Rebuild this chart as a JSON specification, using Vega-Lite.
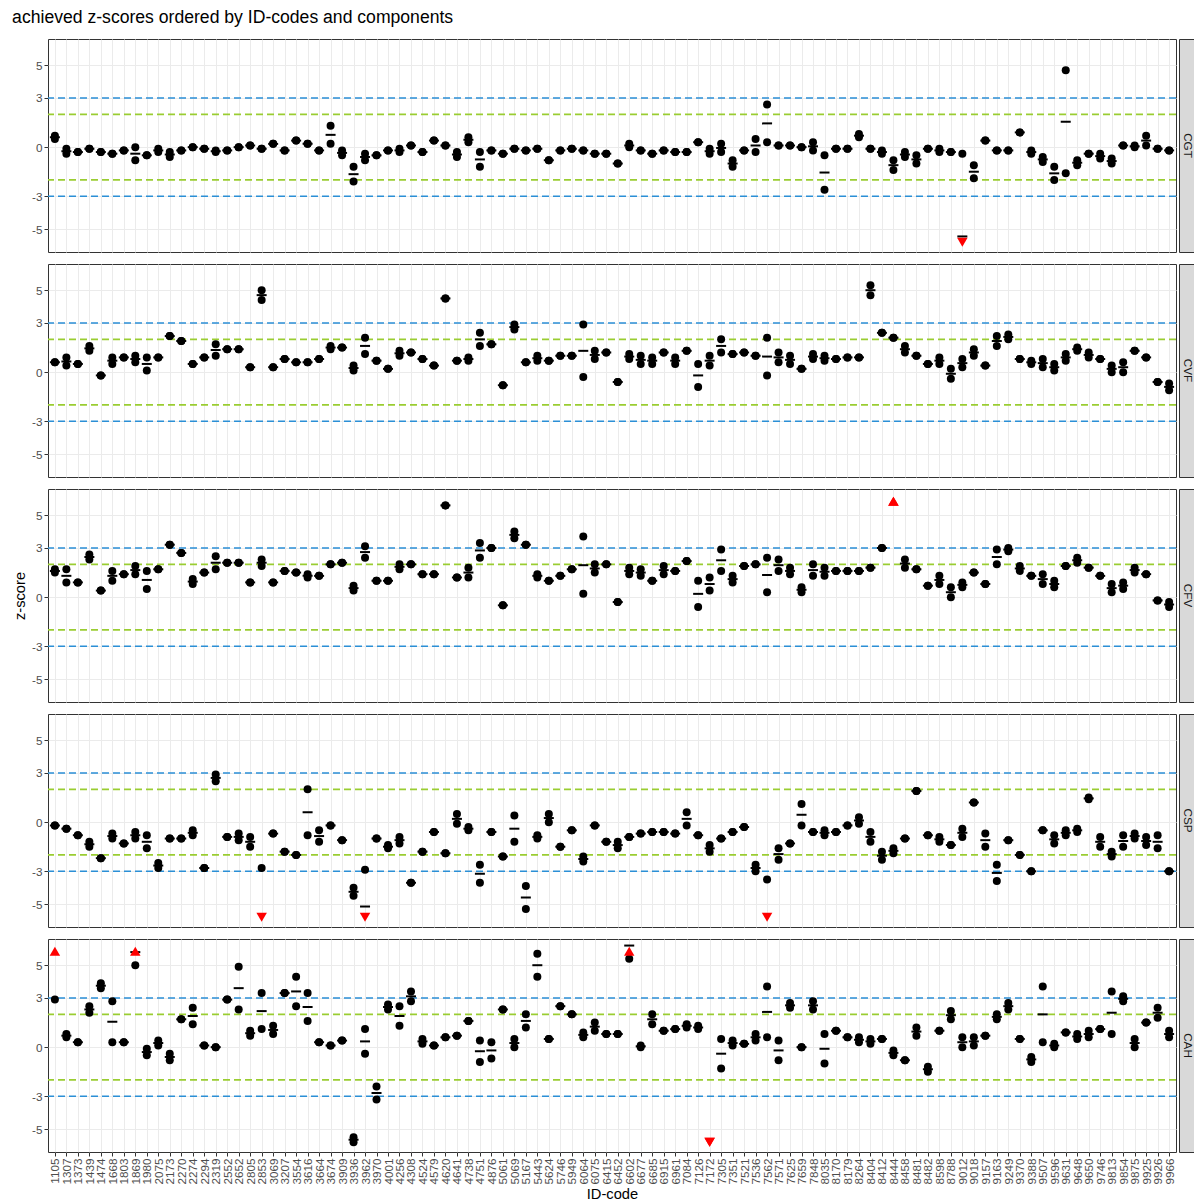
{
"$schema":"https://vega.github.io/schema/vega-lite/v6.json",
"padding":{"left":12,"top":8,"right":0,"bottom":2},
"config":{"font":"Liberation Sans","view":{"stroke":"#333333","strokeWidth":1}},
"title":{"text":"achieved z-scores ordered by ID-codes and components","anchor":"start","fontSize":17.6,"fontWeight":"normal","color":"#000000","offset":12,"frame":"bounds"},
"data":{"values":[
{"id":"1105","c":"CGT","a":0.7,"b":0.5},{"id":"1307","c":"CGT","a":-0.1,"b":-0.4},{"id":"1373","c":"CGT","a":-0.3,"b":-0.3},{"id":"1439","c":"CGT","a":-0.1,"b":-0.1},{"id":"1474","c":"CGT","a":-0.3,"b":-0.3},{"id":"1668","c":"CGT","a":-0.4,"b":-0.4},{"id":"1803","c":"CGT","a":-0.2,"b":-0.2},{"id":"1869","c":"CGT","a":0.0,"b":-0.8},{"id":"1980","c":"CGT","a":-0.5,"b":-0.5},{"id":"2075","c":"CGT","a":-0.1,"b":-0.3},
{"id":"2173","c":"CGT","a":-0.3,"b":-0.6},{"id":"2270","c":"CGT","a":-0.2,"b":-0.2},{"id":"2274","c":"CGT","a":0.0,"b":0.0},{"id":"2294","c":"CGT","a":-0.1,"b":-0.1},{"id":"2319","c":"CGT","a":-0.3,"b":-0.2},{"id":"2552","c":"CGT","a":-0.2,"b":-0.2},{"id":"2652","c":"CGT","a":0.0,"b":0.0},{"id":"2805","c":"CGT","a":0.1,"b":0.1},{"id":"2853","c":"CGT","a":-0.1,"b":-0.1},{"id":"3069","c":"CGT","a":0.2,"b":0.2},
{"id":"3207","c":"CGT","a":-0.2,"b":-0.2},{"id":"3554","c":"CGT","a":0.4,"b":0.4},{"id":"3616","c":"CGT","a":0.2,"b":0.2},{"id":"3664","c":"CGT","a":-0.2,"b":-0.2},{"id":"3674","c":"CGT","a":1.3,"b":0.2},{"id":"3909","c":"CGT","a":-0.2,"b":-0.5},{"id":"3936","c":"CGT","a":-1.2,"b":-2.1},{"id":"3962","c":"CGT","a":-0.4,"b":-0.8},{"id":"3970","c":"CGT","a":-0.5,"b":-0.5},{"id":"4001","c":"CGT","a":-0.2,"b":-0.2},
{"id":"4256","c":"CGT","a":-0.3,"b":-0.1},{"id":"4308","c":"CGT","a":0.1,"b":0.1},{"id":"4524","c":"CGT","a":-0.3,"b":-0.3},{"id":"4579","c":"CGT","a":0.4,"b":0.4},{"id":"4620","c":"CGT","a":0.1,"b":0.1},{"id":"4641","c":"CGT","a":-0.3,"b":-0.6},{"id":"4738","c":"CGT","a":0.6,"b":0.3},{"id":"4751","c":"CGT","a":-0.3,"b":-1.2},{"id":"4876","c":"CGT","a":-0.2,"b":-0.2},{"id":"5061","c":"CGT","a":-0.4,"b":-0.4},
{"id":"5069","c":"CGT","a":-0.1,"b":-0.1},{"id":"5167","c":"CGT","a":-0.2,"b":-0.2},{"id":"5443","c":"CGT","a":-0.1,"b":-0.1},{"id":"5624","c":"CGT","a":-0.8,"b":-0.8},{"id":"5746","c":"CGT","a":-0.2,"b":-0.2},{"id":"5949","c":"CGT","a":-0.1,"b":-0.1},{"id":"6064","c":"CGT","a":-0.2,"b":-0.2},{"id":"6075","c":"CGT","a":-0.4,"b":-0.4},{"id":"6415","c":"CGT","a":-0.4,"b":-0.4},{"id":"6452","c":"CGT","a":-1.0,"b":-1.0},
{"id":"6602","c":"CGT","a":0.2,"b":0.0},{"id":"6677","c":"CGT","a":-0.2,"b":-0.2},{"id":"6685","c":"CGT","a":-0.4,"b":-0.4},{"id":"6915","c":"CGT","a":-0.2,"b":-0.2},{"id":"6961","c":"CGT","a":-0.3,"b":-0.3},{"id":"7084","c":"CGT","a":-0.3,"b":-0.3},{"id":"7126","c":"CGT","a":0.3,"b":0.3},{"id":"7172","c":"CGT","a":-0.1,"b":-0.4},{"id":"7305","c":"CGT","a":0.2,"b":-0.3},{"id":"7351","c":"CGT","a":-0.8,"b":-1.2},
{"id":"7521","c":"CGT","a":-0.2,"b":-0.2},{"id":"7536","c":"CGT","a":0.5,"b":-0.3},{"id":"7562","c":"CGT","a":2.6,"b":0.3},{"id":"7571","c":"CGT","a":0.1,"b":0.1},{"id":"7625","c":"CGT","a":0.1,"b":0.1},{"id":"7659","c":"CGT","a":0.0,"b":0.0},{"id":"7848","c":"CGT","a":0.3,"b":-0.2},{"id":"8035","c":"CGT","a":-0.5,"b":-2.6},{"id":"8170","c":"CGT","a":-0.1,"b":-0.1},{"id":"8179","c":"CGT","a":-0.1,"b":-0.1},
{"id":"8264","c":"CGT","a":0.8,"b":0.6},{"id":"8404","c":"CGT","a":-0.1,"b":-0.1},{"id":"8412","c":"CGT","a":-0.2,"b":-0.4},{"id":"8444","c":"CGT","a":-0.8,"b":-1.4},{"id":"8458","c":"CGT","a":-0.3,"b":-0.6},{"id":"8481","c":"CGT","a":-0.5,"b":-1.0},{"id":"8482","c":"CGT","a":-0.1,"b":-0.1},{"id":"8598","c":"CGT","a":-0.1,"b":-0.3},{"id":"8788","c":"CGT","a":-0.3,"b":-0.3},{"id":"9012","c":"CGT","a":-0.4,"b":-10.5},
{"id":"9018","c":"CGT","a":-1.1,"b":-1.9},{"id":"9157","c":"CGT","a":0.4,"b":0.4},{"id":"9163","c":"CGT","a":-0.2,"b":-0.2},{"id":"9249","c":"CGT","a":-0.2,"b":-0.2},{"id":"9370","c":"CGT","a":0.9,"b":0.9},{"id":"9388","c":"CGT","a":-0.2,"b":-0.4},{"id":"9507","c":"CGT","a":-0.6,"b":-0.9},{"id":"9596","c":"CGT","a":-1.2,"b":-2.0},{"id":"9631","c":"CGT","a":4.7,"b":-1.6},{"id":"9648","c":"CGT","a":-0.8,"b":-1.1},
{"id":"9650","c":"CGT","a":-0.4,"b":-0.4},{"id":"9746","c":"CGT","a":-0.4,"b":-0.7},{"id":"9813","c":"CGT","a":-0.7,"b":-1.0},{"id":"9854","c":"CGT","a":0.1,"b":0.1},{"id":"9875","c":"CGT","a":0.0,"b":0.1},{"id":"9925","c":"CGT","a":0.7,"b":0.1},{"id":"9926","c":"CGT","a":-0.1,"b":-0.1},{"id":"9966","c":"CGT","a":-0.2,"b":-0.2},

{"id":"1105","c":"CVF","a":0.6,"b":0.6},{"id":"1307","c":"CVF","a":0.9,"b":0.4},{"id":"1373","c":"CVF","a":0.5,"b":0.5},{"id":"1439","c":"CVF","a":1.6,"b":1.3},{"id":"1474","c":"CVF","a":-0.2,"b":-0.2},{"id":"1668","c":"CVF","a":0.9,"b":0.5},{"id":"1803","c":"CVF","a":0.9,"b":0.9},{"id":"1869","c":"CVF","a":1.0,"b":0.6},{"id":"1980","c":"CVF","a":0.9,"b":0.1},{"id":"2075","c":"CVF","a":0.9,"b":0.9},
{"id":"2173","c":"CVF","a":2.2,"b":2.2},{"id":"2270","c":"CVF","a":1.9,"b":1.9},{"id":"2274","c":"CVF","a":0.5,"b":0.5},{"id":"2294","c":"CVF","a":0.9,"b":0.9},{"id":"2319","c":"CVF","a":1.7,"b":1.0},{"id":"2552","c":"CVF","a":1.4,"b":1.4},{"id":"2652","c":"CVF","a":1.4,"b":1.4},{"id":"2805","c":"CVF","a":0.3,"b":0.3},{"id":"2853","c":"CVF","a":5.0,"b":4.4},{"id":"3069","c":"CVF","a":0.3,"b":0.3},
{"id":"3207","c":"CVF","a":0.8,"b":0.8},{"id":"3554","c":"CVF","a":0.6,"b":0.6},{"id":"3616","c":"CVF","a":0.6,"b":0.6},{"id":"3664","c":"CVF","a":0.8,"b":0.8},{"id":"3674","c":"CVF","a":1.6,"b":1.4},{"id":"3909","c":"CVF","a":1.5,"b":1.5},{"id":"3936","c":"CVF","a":0.4,"b":0.1},{"id":"3962","c":"CVF","a":2.1,"b":1.1},{"id":"3970","c":"CVF","a":0.7,"b":0.7},{"id":"4001","c":"CVF","a":0.2,"b":0.2},
{"id":"4256","c":"CVF","a":1.3,"b":1.0},{"id":"4308","c":"CVF","a":1.2,"b":1.2},{"id":"4524","c":"CVF","a":0.8,"b":0.8},{"id":"4579","c":"CVF","a":0.4,"b":0.4},{"id":"4620","c":"CVF","a":4.5,"b":4.5},{"id":"4641","c":"CVF","a":0.7,"b":0.7},{"id":"4738","c":"CVF","a":0.9,"b":0.7},{"id":"4751","c":"CVF","a":2.4,"b":1.6},{"id":"4876","c":"CVF","a":1.7,"b":1.7},{"id":"5061","c":"CVF","a":-0.8,"b":-0.8},
{"id":"5069","c":"CVF","a":2.9,"b":2.6},{"id":"5167","c":"CVF","a":0.6,"b":0.6},{"id":"5443","c":"CVF","a":1.0,"b":0.7},{"id":"5624","c":"CVF","a":0.7,"b":0.7},{"id":"5746","c":"CVF","a":1.0,"b":1.0},{"id":"5949","c":"CVF","a":1.0,"b":1.0},{"id":"6064","c":"CVF","a":2.9,"b":-0.3},{"id":"6075","c":"CVF","a":1.3,"b":0.8},{"id":"6415","c":"CVF","a":1.2,"b":1.2},{"id":"6452","c":"CVF","a":-0.6,"b":-0.6},
{"id":"6602","c":"CVF","a":1.1,"b":0.8},{"id":"6677","c":"CVF","a":1.0,"b":0.5},{"id":"6685","c":"CVF","a":0.9,"b":0.5},{"id":"6915","c":"CVF","a":1.2,"b":1.2},{"id":"6961","c":"CVF","a":0.9,"b":0.5},{"id":"7084","c":"CVF","a":1.3,"b":1.3},{"id":"7126","c":"CVF","a":0.5,"b":-0.9},{"id":"7172","c":"CVF","a":1.0,"b":0.4},{"id":"7305","c":"CVF","a":2.0,"b":1.2},{"id":"7351","c":"CVF","a":1.1,"b":1.1},
{"id":"7521","c":"CVF","a":1.2,"b":1.2},{"id":"7536","c":"CVF","a":1.0,"b":1.0},{"id":"7562","c":"CVF","a":2.1,"b":-0.2},{"id":"7571","c":"CVF","a":1.2,"b":0.6},{"id":"7625","c":"CVF","a":1.0,"b":0.5},{"id":"7659","c":"CVF","a":0.2,"b":0.2},{"id":"7848","c":"CVF","a":1.1,"b":0.8},{"id":"8035","c":"CVF","a":1.0,"b":0.7},{"id":"8170","c":"CVF","a":0.8,"b":0.8},{"id":"8179","c":"CVF","a":0.9,"b":0.9},
{"id":"8264","c":"CVF","a":0.9,"b":0.9},{"id":"8404","c":"CVF","a":5.3,"b":4.7},{"id":"8412","c":"CVF","a":2.4,"b":2.4},{"id":"8444","c":"CVF","a":2.1,"b":2.1},{"id":"8458","c":"CVF","a":1.6,"b":1.2},{"id":"8481","c":"CVF","a":1.0,"b":1.0},{"id":"8482","c":"CVF","a":0.5,"b":0.5},{"id":"8598","c":"CVF","a":0.9,"b":0.5},{"id":"8788","c":"CVF","a":0.2,"b":-0.4},{"id":"9012","c":"CVF","a":0.8,"b":0.3},
{"id":"9018","c":"CVF","a":1.4,"b":1.0},{"id":"9157","c":"CVF","a":0.4,"b":0.4},{"id":"9163","c":"CVF","a":2.2,"b":1.6},{"id":"9249","c":"CVF","a":2.3,"b":2.0},{"id":"9370","c":"CVF","a":0.8,"b":0.8},{"id":"9388","c":"CVF","a":0.7,"b":0.5},{"id":"9507","c":"CVF","a":0.8,"b":0.3},{"id":"9596","c":"CVF","a":0.5,"b":0.1},{"id":"9631","c":"CVF","a":1.1,"b":0.7},{"id":"9648","c":"CVF","a":1.5,"b":1.3},
{"id":"9650","c":"CVF","a":1.2,"b":0.9},{"id":"9746","c":"CVF","a":0.8,"b":0.8},{"id":"9813","c":"CVF","a":0.4,"b":0.0},{"id":"9854","c":"CVF","a":0.6,"b":0.0},{"id":"9875","c":"CVF","a":1.3,"b":1.3},{"id":"9925","c":"CVF","a":0.9,"b":0.9},{"id":"9926","c":"CVF","a":-0.6,"b":-0.6},{"id":"9966","c":"CVF","a":-0.7,"b":-1.1},

{"id":"1105","c":"CFV","a":1.7,"b":1.5},{"id":"1307","c":"CFV","a":1.7,"b":0.9},{"id":"1373","c":"CFV","a":0.9,"b":0.9},{"id":"1439","c":"CFV","a":2.6,"b":2.3},{"id":"1474","c":"CFV","a":0.4,"b":0.4},{"id":"1668","c":"CFV","a":1.6,"b":1.0},{"id":"1803","c":"CFV","a":1.4,"b":1.4},{"id":"1869","c":"CFV","a":1.9,"b":1.4},{"id":"1980","c":"CFV","a":1.6,"b":0.5},{"id":"2075","c":"CFV","a":1.7,"b":1.7},
{"id":"2173","c":"CFV","a":3.2,"b":3.2},{"id":"2270","c":"CFV","a":2.7,"b":2.7},{"id":"2274","c":"CFV","a":1.1,"b":0.8},{"id":"2294","c":"CFV","a":1.5,"b":1.5},{"id":"2319","c":"CFV","a":2.5,"b":1.7},{"id":"2552","c":"CFV","a":2.1,"b":2.1},{"id":"2652","c":"CFV","a":2.1,"b":2.1},{"id":"2805","c":"CFV","a":0.9,"b":0.9},{"id":"2853","c":"CFV","a":2.3,"b":1.9},{"id":"3069","c":"CFV","a":0.9,"b":0.9},
{"id":"3207","c":"CFV","a":1.6,"b":1.6},{"id":"3554","c":"CFV","a":1.5,"b":1.5},{"id":"3616","c":"CFV","a":1.4,"b":1.2},{"id":"3664","c":"CFV","a":1.3,"b":1.3},{"id":"3674","c":"CFV","a":2.0,"b":2.0},{"id":"3909","c":"CFV","a":2.1,"b":2.1},{"id":"3936","c":"CFV","a":0.7,"b":0.4},{"id":"3962","c":"CFV","a":3.1,"b":2.4},{"id":"3970","c":"CFV","a":1.0,"b":1.0},{"id":"4001","c":"CFV","a":1.0,"b":1.0},
{"id":"4256","c":"CFV","a":2.0,"b":1.7},{"id":"4308","c":"CFV","a":2.0,"b":2.0},{"id":"4524","c":"CFV","a":1.4,"b":1.4},{"id":"4579","c":"CFV","a":1.4,"b":1.4},{"id":"4620","c":"CFV","a":5.6,"b":5.6},{"id":"4641","c":"CFV","a":1.2,"b":1.2},{"id":"4738","c":"CFV","a":1.8,"b":1.2},{"id":"4751","c":"CFV","a":3.3,"b":2.4},{"id":"4876","c":"CFV","a":3.0,"b":3.0},{"id":"5061","c":"CFV","a":-0.5,"b":-0.5},
{"id":"5069","c":"CFV","a":4.0,"b":3.6},{"id":"5167","c":"CFV","a":3.2,"b":3.2},{"id":"5443","c":"CFV","a":1.4,"b":1.2},{"id":"5624","c":"CFV","a":1.0,"b":1.0},{"id":"5746","c":"CFV","a":1.3,"b":1.3},{"id":"5949","c":"CFV","a":1.7,"b":1.7},{"id":"6064","c":"CFV","a":3.7,"b":0.2},{"id":"6075","c":"CFV","a":2.0,"b":1.5},{"id":"6415","c":"CFV","a":2.0,"b":2.0},{"id":"6452","c":"CFV","a":-0.3,"b":-0.3},
{"id":"6602","c":"CFV","a":1.8,"b":1.4},{"id":"6677","c":"CFV","a":1.7,"b":1.3},{"id":"6685","c":"CFV","a":1.0,"b":1.0},{"id":"6915","c":"CFV","a":1.9,"b":1.4},{"id":"6961","c":"CFV","a":1.6,"b":1.6},{"id":"7084","c":"CFV","a":2.2,"b":2.2},{"id":"7126","c":"CFV","a":1.0,"b":-0.6},{"id":"7172","c":"CFV","a":1.2,"b":0.4},{"id":"7305","c":"CFV","a":2.9,"b":1.6},{"id":"7351","c":"CFV","a":1.3,"b":0.9},
{"id":"7521","c":"CFV","a":1.9,"b":1.9},{"id":"7536","c":"CFV","a":2.0,"b":2.0},{"id":"7562","c":"CFV","a":2.4,"b":0.3},{"id":"7571","c":"CFV","a":2.3,"b":1.6},{"id":"7625","c":"CFV","a":1.8,"b":1.4},{"id":"7659","c":"CFV","a":0.6,"b":0.3},{"id":"7848","c":"CFV","a":2.0,"b":1.3},{"id":"8035","c":"CFV","a":1.8,"b":1.3},{"id":"8170","c":"CFV","a":1.6,"b":1.6},{"id":"8179","c":"CFV","a":1.6,"b":1.6},
{"id":"8264","c":"CFV","a":1.6,"b":1.6},{"id":"8404","c":"CFV","a":1.8,"b":1.8},{"id":"8412","c":"CFV","a":3.0,"b":3.0},{"id":"8444","c":"CFV","a":8.0,"b":8.0},{"id":"8458","c":"CFV","a":2.3,"b":1.8},{"id":"8481","c":"CFV","a":1.7,"b":1.7},{"id":"8482","c":"CFV","a":0.7,"b":0.7},{"id":"8598","c":"CFV","a":1.3,"b":0.8},{"id":"8788","c":"CFV","a":0.6,"b":0.0},{"id":"9012","c":"CFV","a":0.9,"b":0.6},
{"id":"9018","c":"CFV","a":1.5,"b":1.5},{"id":"9157","c":"CFV","a":0.8,"b":0.8},{"id":"9163","c":"CFV","a":2.9,"b":2.0},{"id":"9249","c":"CFV","a":3.0,"b":2.8},{"id":"9370","c":"CFV","a":1.9,"b":1.6},{"id":"9388","c":"CFV","a":1.3,"b":1.3},{"id":"9507","c":"CFV","a":1.4,"b":0.8},{"id":"9596","c":"CFV","a":1.0,"b":0.6},{"id":"9631","c":"CFV","a":1.9,"b":1.9},{"id":"9648","c":"CFV","a":2.4,"b":2.1},
{"id":"9650","c":"CFV","a":1.8,"b":1.8},{"id":"9746","c":"CFV","a":1.3,"b":1.3},{"id":"9813","c":"CFV","a":0.8,"b":0.3},{"id":"9854","c":"CFV","a":0.9,"b":0.5},{"id":"9875","c":"CFV","a":1.8,"b":1.5},{"id":"9925","c":"CFV","a":1.4,"b":1.4},{"id":"9926","c":"CFV","a":-0.2,"b":-0.2},{"id":"9966","c":"CFV","a":-0.3,"b":-0.6},

{"id":"1105","c":"CSP","a":-0.2,"b":-0.2},{"id":"1307","c":"CSP","a":-0.4,"b":-0.4},{"id":"1373","c":"CSP","a":-0.8,"b":-0.8},{"id":"1439","c":"CSP","a":-1.5,"b":-1.2},{"id":"1474","c":"CSP","a":-2.2,"b":-2.2},{"id":"1668","c":"CSP","a":-1.0,"b":-0.7},{"id":"1803","c":"CSP","a":-1.3,"b":-1.3},{"id":"1869","c":"CSP","a":-1.0,"b":-0.6},{"id":"1980","c":"CSP","a":-0.8,"b":-1.6},{"id":"2075","c":"CSP","a":-2.5,"b":-2.8},
{"id":"2173","c":"CSP","a":-1.0,"b":-1.0},{"id":"2270","c":"CSP","a":-1.0,"b":-1.0},{"id":"2274","c":"CSP","a":-0.8,"b":-0.5},{"id":"2294","c":"CSP","a":-2.8,"b":-2.8},{"id":"2319","c":"CSP","a":2.9,"b":2.5},{"id":"2552","c":"CSP","a":-0.9,"b":-0.9},{"id":"2652","c":"CSP","a":-1.1,"b":-0.7},{"id":"2805","c":"CSP","a":-1.5,"b":-0.9},{"id":"2853","c":"CSP","a":-2.8,"b":-10.0},{"id":"3069","c":"CSP","a":-0.7,"b":-0.7},
{"id":"3207","c":"CSP","a":-1.8,"b":-1.8},{"id":"3554","c":"CSP","a":-2.0,"b":-2.0},{"id":"3616","c":"CSP","a":2.0,"b":-0.8},{"id":"3664","c":"CSP","a":-0.5,"b":-1.2},{"id":"3674","c":"CSP","a":-0.2,"b":-0.2},{"id":"3909","c":"CSP","a":-1.1,"b":-1.1},{"id":"3936","c":"CSP","a":-4.0,"b":-4.5},{"id":"3962","c":"CSP","a":-2.9,"b":-7.4},{"id":"3970","c":"CSP","a":-1.0,"b":-1.0},{"id":"4001","c":"CSP","a":-1.6,"b":-1.4},
{"id":"4256","c":"CSP","a":-0.9,"b":-1.3},{"id":"4308","c":"CSP","a":-3.7,"b":-3.7},{"id":"4524","c":"CSP","a":-1.8,"b":-1.8},{"id":"4579","c":"CSP","a":-0.6,"b":-0.6},{"id":"4620","c":"CSP","a":-1.9,"b":-1.9},{"id":"4641","c":"CSP","a":0.5,"b":-0.1},{"id":"4738","c":"CSP","a":-0.3,"b":-0.5},{"id":"4751","c":"CSP","a":-2.6,"b":-3.7},{"id":"4876","c":"CSP","a":-0.6,"b":-0.6},{"id":"5061","c":"CSP","a":-2.1,"b":-2.1},
{"id":"5069","c":"CSP","a":0.4,"b":-1.2},{"id":"5167","c":"CSP","a":-3.9,"b":-5.3},{"id":"5443","c":"CSP","a":-1.0,"b":-0.8},{"id":"5624","c":"CSP","a":0.5,"b":0.0},{"id":"5746","c":"CSP","a":-1.5,"b":-1.5},{"id":"5949","c":"CSP","a":-0.5,"b":-0.5},{"id":"6064","c":"CSP","a":-2.1,"b":-2.4},{"id":"6075","c":"CSP","a":-0.2,"b":-0.2},{"id":"6415","c":"CSP","a":-1.2,"b":-1.2},{"id":"6452","c":"CSP","a":-1.6,"b":-1.2},
{"id":"6602","c":"CSP","a":-0.9,"b":-0.9},{"id":"6677","c":"CSP","a":-0.7,"b":-0.7},{"id":"6685","c":"CSP","a":-0.6,"b":-0.6},{"id":"6915","c":"CSP","a":-0.6,"b":-0.6},{"id":"6961","c":"CSP","a":-0.7,"b":-0.7},{"id":"7084","c":"CSP","a":0.6,"b":-0.2},{"id":"7126","c":"CSP","a":-0.8,"b":-0.8},{"id":"7172","c":"CSP","a":-1.8,"b":-1.4},{"id":"7305","c":"CSP","a":-1.0,"b":-1.0},{"id":"7351","c":"CSP","a":-0.6,"b":-0.6},
{"id":"7521","c":"CSP","a":-0.3,"b":-0.3},{"id":"7536","c":"CSP","a":-2.6,"b":-3.0},{"id":"7562","c":"CSP","a":-3.5,"b":-10.0},{"id":"7571","c":"CSP","a":-1.6,"b":-2.3},{"id":"7625","c":"CSP","a":-1.3,"b":-1.3},{"id":"7659","c":"CSP","a":1.1,"b":-0.2},{"id":"7848","c":"CSP","a":-0.6,"b":-0.6},{"id":"8035","c":"CSP","a":-0.8,"b":-0.5},{"id":"8170","c":"CSP","a":-0.6,"b":-0.6},{"id":"8179","c":"CSP","a":-0.2,"b":-0.2},
{"id":"8264","c":"CSP","a":0.3,"b":-0.1},{"id":"8404","c":"CSP","a":-0.6,"b":-1.2},{"id":"8412","c":"CSP","a":-2.3,"b":-1.8},{"id":"8444","c":"CSP","a":-1.6,"b":-1.9},{"id":"8458","c":"CSP","a":-1.0,"b":-1.0},{"id":"8481","c":"CSP","a":1.9,"b":1.9},{"id":"8482","c":"CSP","a":-0.8,"b":-0.8},{"id":"8598","c":"CSP","a":-1.2,"b":-0.9},{"id":"8788","c":"CSP","a":-1.4,"b":-1.4},{"id":"9012","c":"CSP","a":-0.4,"b":-0.9},
{"id":"9018","c":"CSP","a":1.2,"b":1.2},{"id":"9157","c":"CSP","a":-0.7,"b":-1.5},{"id":"9163","c":"CSP","a":-2.6,"b":-3.6},{"id":"9249","c":"CSP","a":-1.1,"b":-1.1},{"id":"9370","c":"CSP","a":-2.0,"b":-2.0},{"id":"9388","c":"CSP","a":-3.0,"b":-3.0},{"id":"9507","c":"CSP","a":-0.5,"b":-0.5},{"id":"9596","c":"CSP","a":-1.3,"b":-0.8},{"id":"9631","c":"CSP","a":-0.8,"b":-0.5},{"id":"9648","c":"CSP","a":-0.4,"b":-0.6},
{"id":"9650","c":"CSP","a":1.5,"b":1.4},{"id":"9746","c":"CSP","a":-0.9,"b":-1.5},{"id":"9813","c":"CSP","a":-1.8,"b":-2.1},{"id":"9854","c":"CSP","a":-0.8,"b":-1.5},{"id":"9875","c":"CSP","a":-1.0,"b":-0.7},{"id":"9925","c":"CSP","a":-0.9,"b":-1.4},{"id":"9926","c":"CSP","a":-0.8,"b":-1.6},{"id":"9966","c":"CSP","a":-3.0,"b":-3.0},

{"id":"1105","c":"CAH","a":2.9,"b":12.0},{"id":"1307","c":"CAH","a":0.8,"b":0.6},{"id":"1373","c":"CAH","a":0.3,"b":0.3},{"id":"1439","c":"CAH","a":2.5,"b":2.1},{"id":"1474","c":"CAH","a":3.9,"b":3.6},{"id":"1668","c":"CAH","a":2.8,"b":0.3},{"id":"1803","c":"CAH","a":0.3,"b":0.3},{"id":"1869","c":"CAH","a":5.0,"b":6.6},{"id":"1980","c":"CAH","a":-0.1,"b":-0.5},{"id":"2075","c":"CAH","a":0.4,"b":0.1},
{"id":"2173","c":"CAH","a":-0.4,"b":-0.8},{"id":"2270","c":"CAH","a":1.7,"b":1.7},{"id":"2274","c":"CAH","a":2.4,"b":1.4},{"id":"2294","c":"CAH","a":0.1,"b":0.1},{"id":"2319","c":"CAH","a":0.0,"b":0.0},{"id":"2552","c":"CAH","a":2.9,"b":2.9},{"id":"2652","c":"CAH","a":4.9,"b":2.3},{"id":"2805","c":"CAH","a":1.0,"b":0.7},{"id":"2853","c":"CAH","a":3.3,"b":1.1},{"id":"3069","c":"CAH","a":1.3,"b":0.8},
{"id":"3207","c":"CAH","a":3.3,"b":3.3},{"id":"3554","c":"CAH","a":4.3,"b":2.5},{"id":"3616","c":"CAH","a":3.3,"b":1.6},{"id":"3664","c":"CAH","a":0.3,"b":0.3},{"id":"3674","c":"CAH","a":0.1,"b":0.1},{"id":"3909","c":"CAH","a":0.4,"b":0.4},{"id":"3936","c":"CAH","a":-5.5,"b":-5.8},{"id":"3962","c":"CAH","a":1.1,"b":-0.4},{"id":"3970","c":"CAH","a":-2.4,"b":-3.2},{"id":"4001","c":"CAH","a":2.6,"b":2.3},
{"id":"4256","c":"CAH","a":2.5,"b":1.3},{"id":"4308","c":"CAH","a":3.4,"b":2.8},{"id":"4524","c":"CAH","a":0.5,"b":0.2},{"id":"4579","c":"CAH","a":0.1,"b":0.1},{"id":"4620","c":"CAH","a":0.6,"b":0.6},{"id":"4641","c":"CAH","a":0.7,"b":0.7},{"id":"4738","c":"CAH","a":1.6,"b":1.6},{"id":"4751","c":"CAH","a":0.4,"b":-0.9},{"id":"4876","c":"CAH","a":0.3,"b":-0.7},{"id":"5061","c":"CAH","a":2.3,"b":2.3},
{"id":"5069","c":"CAH","a":0.5,"b":0.0},{"id":"5167","c":"CAH","a":2.0,"b":1.2},{"id":"5443","c":"CAH","a":5.7,"b":4.3},{"id":"5624","c":"CAH","a":0.5,"b":0.5},{"id":"5746","c":"CAH","a":2.5,"b":2.5},{"id":"5949","c":"CAH","a":2.0,"b":2.0},{"id":"6064","c":"CAH","a":0.9,"b":0.6},{"id":"6075","c":"CAH","a":1.5,"b":1.0},{"id":"6415","c":"CAH","a":0.8,"b":0.8},{"id":"6452","c":"CAH","a":0.8,"b":0.8},
{"id":"6602","c":"CAH","a":5.4,"b":7.0},{"id":"6677","c":"CAH","a":0.1,"b":0.0},{"id":"6685","c":"CAH","a":2.0,"b":1.4},{"id":"6915","c":"CAH","a":1.0,"b":1.0},{"id":"6961","c":"CAH","a":1.1,"b":1.1},{"id":"7084","c":"CAH","a":1.4,"b":1.2},{"id":"7126","c":"CAH","a":1.3,"b":1.1},{"id":"7172","c":"CAH","a":-8.0,"b":-8.0},{"id":"7305","c":"CAH","a":0.5,"b":-1.3},{"id":"7351","c":"CAH","a":0.4,"b":0.1},
{"id":"7521","c":"CAH","a":0.2,"b":0.2},{"id":"7536","c":"CAH","a":0.8,"b":0.4},{"id":"7562","c":"CAH","a":3.7,"b":0.6},{"id":"7571","c":"CAH","a":0.4,"b":-0.8},{"id":"7625","c":"CAH","a":2.7,"b":2.4},{"id":"7659","c":"CAH","a":0.0,"b":0.0},{"id":"7848","c":"CAH","a":2.8,"b":2.3},{"id":"8035","c":"CAH","a":0.8,"b":-1.0},{"id":"8170","c":"CAH","a":1.0,"b":1.0},{"id":"8179","c":"CAH","a":0.6,"b":0.6},
{"id":"8264","c":"CAH","a":0.6,"b":0.3},{"id":"8404","c":"CAH","a":0.5,"b":0.2},{"id":"8412","c":"CAH","a":0.5,"b":0.5},{"id":"8444","c":"CAH","a":-0.2,"b":-0.5},{"id":"8458","c":"CAH","a":-0.8,"b":-0.8},{"id":"8481","c":"CAH","a":1.2,"b":0.7},{"id":"8482","c":"CAH","a":-1.2,"b":-1.5},{"id":"8598","c":"CAH","a":1.0,"b":1.0},{"id":"8788","c":"CAH","a":2.2,"b":1.7},{"id":"9012","c":"CAH","a":0.6,"b":0.0},
{"id":"9018","c":"CAH","a":0.6,"b":0.1},{"id":"9157","c":"CAH","a":0.7,"b":0.7},{"id":"9163","c":"CAH","a":2.0,"b":1.7},{"id":"9249","c":"CAH","a":2.7,"b":2.3},{"id":"9370","c":"CAH","a":0.5,"b":0.5},{"id":"9388","c":"CAH","a":-0.6,"b":-0.9},{"id":"9507","c":"CAH","a":3.7,"b":0.3},{"id":"9596","c":"CAH","a":0.2,"b":0.0},{"id":"9631","c":"CAH","a":0.9,"b":0.9},{"id":"9648","c":"CAH","a":0.8,"b":0.5},
{"id":"9650","c":"CAH","a":1.0,"b":0.6},{"id":"9746","c":"CAH","a":1.1,"b":1.1},{"id":"9813","c":"CAH","a":3.4,"b":0.8},{"id":"9854","c":"CAH","a":3.1,"b":2.8},{"id":"9875","c":"CAH","a":0.5,"b":0.0},{"id":"9925","c":"CAH","a":1.5,"b":1.5},{"id":"9926","c":"CAH","a":2.4,"b":1.8},{"id":"9966","c":"CAH","a":1.0,"b":0.6}
]},
"transform":[{"fold":["a","b"],"as":["rep","z"]}],
"spacing":10,
"vconcat":[
{"spacing":0,"hconcat":[
 {"width":1128,"height":213,
  "layer":[
   {"data":{"values":[{"v":3,"g":"b"},{"v":-3,"g":"b"},{"v":2,"g":"g"},{"v":-2,"g":"g"}]},
    "mark":{"type":"rule","strokeDash":[7,4],"strokeWidth":1.6},
    "encoding":{"y":{"field":"v","type":"quantitative","scale":{"domain":[-6.4,6.6],"nice":false,"zero":false},"axis":{"values":[-5,-3,0,3,5],"labelExpr":"'' + datum.value","title":"z-score","titleOpacity":0,"titleFontSize":14.7,"titleFontWeight":"normal","titleColor":"#000000","labelFontSize":11.7,"labelColor":"#4D4D4D","tickColor":"#333333","tickSize":4,"labelPadding":2,"grid":true,"gridColor":"#EBEBEB","domain":false}},
     "color":{"field":"g","type":"nominal","scale":{"domain":["b","g"],"range":["#2B8FD6","#9ACD32"]},"legend":null}}},
   {"transform":[{"filter":"datum.c == 'CGT'"},{"aggregate":[{"op":"mean","field":"z","as":"m"}],"groupby":["id"]},{"filter":"datum.m > -6.3 && datum.m < 6.5"}],
    "mark":{"type":"tick","color":"#000000","opacity":1,"size":10,"thickness":2},
    "encoding":{"x":{"field":"id","type":"ordinal","scale":{"type":"point","padding":0.6},"axis":{"labels":false,"ticks":false,"domain":false,"title":null,"grid":true,"gridColor":"#EBEBEB"}},
     "y":{"field":"m","type":"quantitative"}}},
   {"transform":[{"filter":"datum.c == 'CGT' && datum.z > -6.2 && datum.z < 6.2"}],
    "mark":{"type":"circle","color":"#000000","opacity":1,"size":64},
    "encoding":{"x":{"field":"id","type":"ordinal"},"y":{"field":"z","type":"quantitative"}}},
   {"transform":[{"filter":"datum.c == 'CGT' && datum.z >= 6.2"}],
    "mark":{"type":"point","shape":"triangle-up","filled":true,"color":"#FF0000","opacity":1,"size":110},
    "encoding":{"x":{"field":"id","type":"ordinal"},"y":{"datum":5.85,"type":"quantitative"}}},
   {"transform":[{"filter":"datum.c == 'CGT' && datum.z <= -6.2"}],
    "mark":{"type":"point","shape":"triangle-down","filled":true,"color":"#FF0000","opacity":1,"size":110},
    "encoding":{"x":{"field":"id","type":"ordinal"},"y":{"datum":-5.8,"type":"quantitative"}}}
  ]},
 {"width":18,"height":213,"view":{"fill":"#D9D9D9","stroke":"#333333"},
  "transform":[{"filter":"datum.c == 'CGT'"},{"aggregate":[{"op":"count","as":"n"}],"groupby":["c"]}],
  "mark":{"type":"text","angle":90,"fontSize":11.7,"color":"#1A1A1A"},
  "encoding":{"text":{"field":"c","type":"nominal"}}}
]},
{"spacing":0,"hconcat":[
 {"width":1128,"height":213,
  "layer":[
   {"data":{"values":[{"v":3,"g":"b"},{"v":-3,"g":"b"},{"v":2,"g":"g"},{"v":-2,"g":"g"}]},
    "mark":{"type":"rule","strokeDash":[7,4],"strokeWidth":1.6},
    "encoding":{"y":{"field":"v","type":"quantitative","scale":{"domain":[-6.4,6.6],"nice":false,"zero":false},"axis":{"values":[-5,-3,0,3,5],"labelExpr":"'' + datum.value","title":"z-score","titleOpacity":0,"titleFontSize":14.7,"titleFontWeight":"normal","titleColor":"#000000","labelFontSize":11.7,"labelColor":"#4D4D4D","tickColor":"#333333","tickSize":4,"labelPadding":2,"grid":true,"gridColor":"#EBEBEB","domain":false}},
     "color":{"field":"g","type":"nominal","scale":{"domain":["b","g"],"range":["#2B8FD6","#9ACD32"]},"legend":null}}},
   {"transform":[{"filter":"datum.c == 'CVF'"},{"aggregate":[{"op":"mean","field":"z","as":"m"}],"groupby":["id"]},{"filter":"datum.m > -6.3 && datum.m < 6.5"}],
    "mark":{"type":"tick","color":"#000000","opacity":1,"size":10,"thickness":2},
    "encoding":{"x":{"field":"id","type":"ordinal","scale":{"type":"point","padding":0.6},"axis":{"labels":false,"ticks":false,"domain":false,"title":null,"grid":true,"gridColor":"#EBEBEB"}},
     "y":{"field":"m","type":"quantitative"}}},
   {"transform":[{"filter":"datum.c == 'CVF' && datum.z > -6.2 && datum.z < 6.2"}],
    "mark":{"type":"circle","color":"#000000","opacity":1,"size":64},
    "encoding":{"x":{"field":"id","type":"ordinal"},"y":{"field":"z","type":"quantitative"}}},
   {"transform":[{"filter":"datum.c == 'CVF' && datum.z >= 6.2"}],
    "mark":{"type":"point","shape":"triangle-up","filled":true,"color":"#FF0000","opacity":1,"size":110},
    "encoding":{"x":{"field":"id","type":"ordinal"},"y":{"datum":5.85,"type":"quantitative"}}},
   {"transform":[{"filter":"datum.c == 'CVF' && datum.z <= -6.2"}],
    "mark":{"type":"point","shape":"triangle-down","filled":true,"color":"#FF0000","opacity":1,"size":110},
    "encoding":{"x":{"field":"id","type":"ordinal"},"y":{"datum":-5.8,"type":"quantitative"}}}
  ]},
 {"width":18,"height":213,"view":{"fill":"#D9D9D9","stroke":"#333333"},
  "transform":[{"filter":"datum.c == 'CVF'"},{"aggregate":[{"op":"count","as":"n"}],"groupby":["c"]}],
  "mark":{"type":"text","angle":90,"fontSize":11.7,"color":"#1A1A1A"},
  "encoding":{"text":{"field":"c","type":"nominal"}}}
]},
{"spacing":0,"hconcat":[
 {"width":1128,"height":213,
  "layer":[
   {"data":{"values":[{"v":3,"g":"b"},{"v":-3,"g":"b"},{"v":2,"g":"g"},{"v":-2,"g":"g"}]},
    "mark":{"type":"rule","strokeDash":[7,4],"strokeWidth":1.6},
    "encoding":{"y":{"field":"v","type":"quantitative","scale":{"domain":[-6.4,6.6],"nice":false,"zero":false},"axis":{"values":[-5,-3,0,3,5],"labelExpr":"'' + datum.value","title":"z-score","titleOpacity":1,"titleFontSize":14.7,"titleFontWeight":"normal","titleColor":"#000000","labelFontSize":11.7,"labelColor":"#4D4D4D","tickColor":"#333333","tickSize":4,"labelPadding":2,"grid":true,"gridColor":"#EBEBEB","domain":false}},
     "color":{"field":"g","type":"nominal","scale":{"domain":["b","g"],"range":["#2B8FD6","#9ACD32"]},"legend":null}}},
   {"transform":[{"filter":"datum.c == 'CFV'"},{"aggregate":[{"op":"mean","field":"z","as":"m"}],"groupby":["id"]},{"filter":"datum.m > -6.3 && datum.m < 6.5"}],
    "mark":{"type":"tick","color":"#000000","opacity":1,"size":10,"thickness":2},
    "encoding":{"x":{"field":"id","type":"ordinal","scale":{"type":"point","padding":0.6},"axis":{"labels":false,"ticks":false,"domain":false,"title":null,"grid":true,"gridColor":"#EBEBEB"}},
     "y":{"field":"m","type":"quantitative"}}},
   {"transform":[{"filter":"datum.c == 'CFV' && datum.z > -6.2 && datum.z < 6.2"}],
    "mark":{"type":"circle","color":"#000000","opacity":1,"size":64},
    "encoding":{"x":{"field":"id","type":"ordinal"},"y":{"field":"z","type":"quantitative"}}},
   {"transform":[{"filter":"datum.c == 'CFV' && datum.z >= 6.2"}],
    "mark":{"type":"point","shape":"triangle-up","filled":true,"color":"#FF0000","opacity":1,"size":110},
    "encoding":{"x":{"field":"id","type":"ordinal"},"y":{"datum":5.85,"type":"quantitative"}}},
   {"transform":[{"filter":"datum.c == 'CFV' && datum.z <= -6.2"}],
    "mark":{"type":"point","shape":"triangle-down","filled":true,"color":"#FF0000","opacity":1,"size":110},
    "encoding":{"x":{"field":"id","type":"ordinal"},"y":{"datum":-5.8,"type":"quantitative"}}}
  ]},
 {"width":18,"height":213,"view":{"fill":"#D9D9D9","stroke":"#333333"},
  "transform":[{"filter":"datum.c == 'CFV'"},{"aggregate":[{"op":"count","as":"n"}],"groupby":["c"]}],
  "mark":{"type":"text","angle":90,"fontSize":11.7,"color":"#1A1A1A"},
  "encoding":{"text":{"field":"c","type":"nominal"}}}
]},
{"spacing":0,"hconcat":[
 {"width":1128,"height":213,
  "layer":[
   {"data":{"values":[{"v":3,"g":"b"},{"v":-3,"g":"b"},{"v":2,"g":"g"},{"v":-2,"g":"g"}]},
    "mark":{"type":"rule","strokeDash":[7,4],"strokeWidth":1.6},
    "encoding":{"y":{"field":"v","type":"quantitative","scale":{"domain":[-6.4,6.6],"nice":false,"zero":false},"axis":{"values":[-5,-3,0,3,5],"labelExpr":"'' + datum.value","title":"z-score","titleOpacity":0,"titleFontSize":14.7,"titleFontWeight":"normal","titleColor":"#000000","labelFontSize":11.7,"labelColor":"#4D4D4D","tickColor":"#333333","tickSize":4,"labelPadding":2,"grid":true,"gridColor":"#EBEBEB","domain":false}},
     "color":{"field":"g","type":"nominal","scale":{"domain":["b","g"],"range":["#2B8FD6","#9ACD32"]},"legend":null}}},
   {"transform":[{"filter":"datum.c == 'CSP'"},{"aggregate":[{"op":"mean","field":"z","as":"m"}],"groupby":["id"]},{"filter":"datum.m > -6.3 && datum.m < 6.5"}],
    "mark":{"type":"tick","color":"#000000","opacity":1,"size":10,"thickness":2},
    "encoding":{"x":{"field":"id","type":"ordinal","scale":{"type":"point","padding":0.6},"axis":{"labels":false,"ticks":false,"domain":false,"title":null,"grid":true,"gridColor":"#EBEBEB"}},
     "y":{"field":"m","type":"quantitative"}}},
   {"transform":[{"filter":"datum.c == 'CSP' && datum.z > -6.2 && datum.z < 6.2"}],
    "mark":{"type":"circle","color":"#000000","opacity":1,"size":64},
    "encoding":{"x":{"field":"id","type":"ordinal"},"y":{"field":"z","type":"quantitative"}}},
   {"transform":[{"filter":"datum.c == 'CSP' && datum.z >= 6.2"}],
    "mark":{"type":"point","shape":"triangle-up","filled":true,"color":"#FF0000","opacity":1,"size":110},
    "encoding":{"x":{"field":"id","type":"ordinal"},"y":{"datum":5.85,"type":"quantitative"}}},
   {"transform":[{"filter":"datum.c == 'CSP' && datum.z <= -6.2"}],
    "mark":{"type":"point","shape":"triangle-down","filled":true,"color":"#FF0000","opacity":1,"size":110},
    "encoding":{"x":{"field":"id","type":"ordinal"},"y":{"datum":-5.8,"type":"quantitative"}}}
  ]},
 {"width":18,"height":213,"view":{"fill":"#D9D9D9","stroke":"#333333"},
  "transform":[{"filter":"datum.c == 'CSP'"},{"aggregate":[{"op":"count","as":"n"}],"groupby":["c"]}],
  "mark":{"type":"text","angle":90,"fontSize":11.7,"color":"#1A1A1A"},
  "encoding":{"text":{"field":"c","type":"nominal"}}}
]},
{"spacing":0,"hconcat":[
 {"width":1128,"height":213,
  "layer":[
   {"data":{"values":[{"v":3,"g":"b"},{"v":-3,"g":"b"},{"v":2,"g":"g"},{"v":-2,"g":"g"}]},
    "mark":{"type":"rule","strokeDash":[7,4],"strokeWidth":1.6},
    "encoding":{"y":{"field":"v","type":"quantitative","scale":{"domain":[-6.4,6.6],"nice":false,"zero":false},"axis":{"values":[-5,-3,0,3,5],"labelExpr":"'' + datum.value","title":"z-score","titleOpacity":0,"titleFontSize":14.7,"titleFontWeight":"normal","titleColor":"#000000","labelFontSize":11.7,"labelColor":"#4D4D4D","tickColor":"#333333","tickSize":4,"labelPadding":2,"grid":true,"gridColor":"#EBEBEB","domain":false}},
     "color":{"field":"g","type":"nominal","scale":{"domain":["b","g"],"range":["#2B8FD6","#9ACD32"]},"legend":null}}},
   {"transform":[{"filter":"datum.c == 'CAH'"},{"aggregate":[{"op":"mean","field":"z","as":"m"}],"groupby":["id"]},{"filter":"datum.m > -6.3 && datum.m < 6.5"}],
    "mark":{"type":"tick","color":"#000000","opacity":1,"size":10,"thickness":2},
    "encoding":{"x":{"field":"id","type":"ordinal","scale":{"type":"point","padding":0.6},"axis":{"labelAngle":-90,"labelFontSize":11.7,"labelColor":"#4D4D4D","labelOverlap":false,"labelPadding":2,"title":"ID-code","titleFontSize":14.7,"titleFontWeight":"normal","titleColor":"#000000","titlePadding":2,"tickColor":"#333333","tickSize":4,"grid":true,"gridColor":"#EBEBEB","domain":false}},
     "y":{"field":"m","type":"quantitative"}}},
   {"transform":[{"filter":"datum.c == 'CAH' && datum.z > -6.2 && datum.z < 6.2"}],
    "mark":{"type":"circle","color":"#000000","opacity":1,"size":64},
    "encoding":{"x":{"field":"id","type":"ordinal"},"y":{"field":"z","type":"quantitative"}}},
   {"transform":[{"filter":"datum.c == 'CAH' && datum.z >= 6.2"}],
    "mark":{"type":"point","shape":"triangle-up","filled":true,"color":"#FF0000","opacity":1,"size":110},
    "encoding":{"x":{"field":"id","type":"ordinal"},"y":{"datum":5.85,"type":"quantitative"}}},
   {"transform":[{"filter":"datum.c == 'CAH' && datum.z <= -6.2"}],
    "mark":{"type":"point","shape":"triangle-down","filled":true,"color":"#FF0000","opacity":1,"size":110},
    "encoding":{"x":{"field":"id","type":"ordinal"},"y":{"datum":-5.8,"type":"quantitative"}}}
  ]},
 {"width":18,"height":213,"view":{"fill":"#D9D9D9","stroke":"#333333"},
  "transform":[{"filter":"datum.c == 'CAH'"},{"aggregate":[{"op":"count","as":"n"}],"groupby":["c"]}],
  "mark":{"type":"text","angle":90,"fontSize":11.7,"color":"#1A1A1A"},
  "encoding":{"text":{"field":"c","type":"nominal"}}}
]}
]
}
